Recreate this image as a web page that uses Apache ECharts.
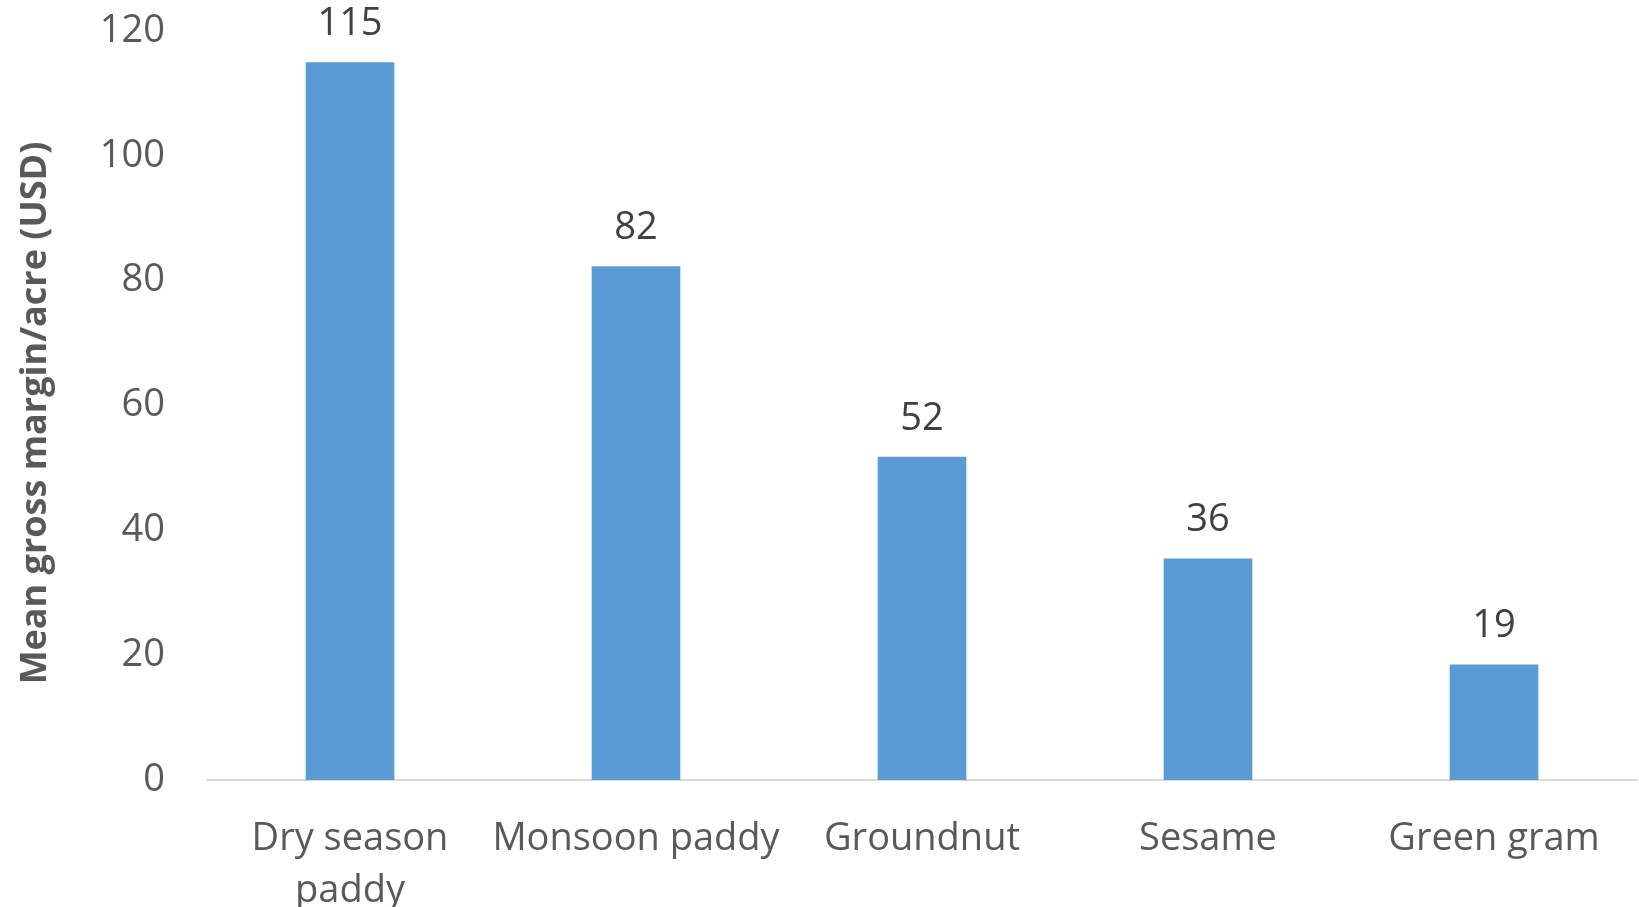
<!DOCTYPE html>
<html>
<head>
<meta charset="utf-8">
<script src="https://cdn.jsdelivr.net/npm/echarts@6/dist/echarts.min.js"></script>
<style>
html,body{margin:0;padding:0;background:#fff;}
#chart{width:1639px;height:907px;}
</style>
</head>
<body>
<div id="chart"></div>
<script>
const categories = ["Dry season\npaddy", "Monsoon paddy", "Groundnut", "Sesame", "Green gram"];
const values = [115, 82.3, 51.8, 35.5, 18.5];
const yTitle = "Mean gross margin/acre (USD)";
const yMin = 0, yMax = 120, yStep = 20;

const chart = echarts.init(document.getElementById('chart'));
chart.setOption({
  animation: false,
  grid: { left: 207, right: 2, top: 31, bottom: 127, containLabel: false, outerBoundsMode: 'none' },
  xAxis: {
    type: 'category',
    data: categories,
    axisLine: { lineStyle: { color: '#d9d9d9', width: 2 } },
    axisTick: { show: false },
    axisLabel: { color: '#595959', fontSize: 38, fontFamily: 'Open Sans', margin: 33, lineHeight: 52, interval: 0 }
  },
  yAxis: {
    type: 'value',
    min: yMin, max: yMax, interval: yStep,
    name: yTitle,
    nameLocation: 'middle',
    nameGap: 153,
    nameTextStyle: { color: '#595959', fontSize: 36, fontWeight: 'bold', fontFamily: 'Open Sans', padding: [0, 15, 0, 0] },
    axisLine: { show: false },
    axisTick: { show: false },
    splitLine: { show: false },
    axisLabel: { color: '#595959', fontSize: 38, fontFamily: 'Open Sans', margin: 42, padding: [6, 0, 0, 0] }
  },
  series: [{
    type: 'bar',
    data: values,
    barWidth: '31%',
    itemStyle: { color: '#5b9bd5' },
    label: {
      show: true, position: 'top', distance: 19,
      color: '#404040', fontSize: 38, fontFamily: 'Open Sans',
      formatter: p => Math.round(p.value)
    }
  }]
});
</script>
</body>
</html>
